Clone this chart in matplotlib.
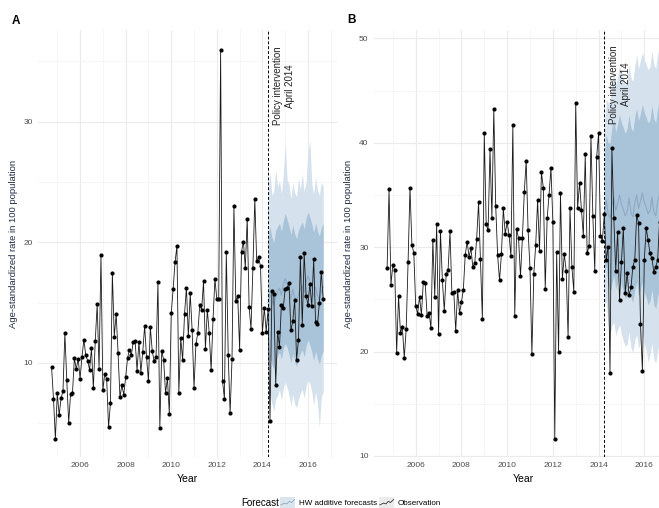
import numpy as np
import matplotlib.pyplot as plt
from matplotlib.ticker import MultipleLocator
from matplotlib.legend_handler import HandlerBase
from matplotlib.patches import Rectangle
from matplotlib.lines import Line2D

plt.rcParams['font.family'] = ['Liberation Sans', 'DejaVu Sans']

# monthly series, Oct 2004 - Sep 2016
years = 2004.75 + np.arange(144) / 12
policy_year = 2014.25
fc_years = years[114:]

obs_a = [9.64, 7.04, 3.7, 7.5, 5.66, 7.1, 7.65, 12.49, 8.56, 5.05, 7.43, 7.5,
         10.38, 9.5, 10.33, 8.7, 10.5, 11.93, 10.63, 10.19, 9.42, 11.21, 7.9, 11.82,
         14.86, 9.53, 18.95, 7.73, 9.09, 8.67, 4.7, 6.69, 17.48, 12.18, 14.06, 10.85,
         7.15, 8.14, 7.37, 8.81, 10.41, 11.08, 10.66, 11.76, 11.82, 9.36, 11.76, 9.2,
         10.91, 13.07, 10.47, 8.51, 12.95, 10.99, 10.13, 10.47, 16.68, 4.61, 10.99, 10.25,
         7.51, 8.72, 5.77, 14.11, 16.13, 18.37, 19.69, 7.51, 12.07, 10.25, 14.06, 16.24,
         12.2, 15.77, 12.73, 7.95, 11.57, 12.49, 14.77, 14.41, 16.76, 11.16, 14.41, 12.49,
         9.39, 13.61, 16.96, 15.3, 15.3, 35.98, 8.51, 7.04, 19.16, 10.69, 5.82, 10.33,
         23.03, 15.14, 15.52, 11.1, 19.22, 20.05, 17.9, 21.96, 14.64, 12.82, 17.9, 23.59,
         18.42, 18.75, 18.0, 12.49, 14.56, 12.6, 14.47, 5.22, 15.93, 15.74, 8.18, 12.57,
         11.35, 14.83, 14.56, 16.13, 16.21, 16.63, 12.7, 13.45, 15.25, 10.27, 11.93, 18.78,
         13.17, 19.14, 15.58, 14.83, 16.54, 14.69, 18.64, 13.37, 13.26, 14.97, 17.54, 15.3]

obs_b = [28.03, 35.54, 26.4, 28.28, 27.81, 19.88, 25.32, 21.77, 22.32, 19.4, 22.12, 28.57,
         35.69, 30.23, 29.46, 24.39, 23.6, 25.25, 23.5, 26.69, 26.53, 23.4, 23.72, 22.25,
         30.71, 25.25, 32.18, 21.68, 31.51, 26.85, 23.91, 27.42, 27.81, 31.51, 25.57, 25.73,
         21.93, 25.89, 23.72, 24.71, 25.89, 29.27, 30.52, 29.08, 29.88, 28.09, 28.48, 30.78,
         34.29, 28.84, 23.11, 40.93, 32.18, 31.61, 39.37, 32.82, 43.26, 33.94, 29.24, 26.82,
         29.31, 33.72, 31.28, 32.38, 31.16, 29.12, 41.72, 23.43, 31.7, 30.84, 27.2, 30.84,
         35.28, 38.28, 31.61, 27.97, 19.73, 27.42, 30.23, 34.51, 29.6, 37.16, 35.69, 26.02,
         32.76, 35.02, 37.58, 32.44, 11.62, 29.52, 19.98, 35.15, 26.92, 29.34, 27.74, 21.36,
         33.75, 28.06, 25.73, 43.77, 33.72, 36.17, 33.55, 31.06, 38.89, 29.4, 30.13, 40.64,
         32.98, 27.68, 38.63, 40.9, 31.06, 30.61, 33.17, 28.76, 30.04, 17.91, 39.46, 32.76,
         27.74, 31.45, 24.91, 28.6, 31.86, 25.57, 27.56, 25.38, 26.15, 28.12, 28.79, 33.07,
         32.28, 22.6, 18.13, 28.76, 31.8, 30.68, 29.4, 28.92, 27.65, 28.12, 28.76, 32.43]

# Holt-Winters forecasts, Apr 2014 - Sep 2016
mean_a = [15.0, 15.8, 15.2, 14.8, 15.5, 15.9, 16.2, 15.6, 16.5, 17.0, 16.6, 16.0,
          15.3, 16.1, 15.4, 15.0, 15.7, 16.1, 16.4, 15.8, 16.7, 17.2, 16.8, 16.2,
          15.5, 16.3, 15.6, 15.2, 15.9, 16.3]
hi95_a = [24.5, 25.8, 23.9, 24.2, 26.0, 24.6, 25.1, 24.0, 25.6, 28.3, 25.2, 24.8,
          23.6, 24.9, 24.1, 23.8, 25.3, 24.4, 25.7, 24.2, 25.0, 27.5, 28.4, 24.9,
          24.0, 25.4, 24.3, 23.9, 25.0, 24.6]
lo95_a = [6.2, 7.5, 6.6, 6.0, 7.0, 7.3, 7.8, 6.9, 7.9, 8.4, 8.0, 7.3,
          6.5, 7.4, 6.6, 6.3, 7.0, 7.5, 7.8, 7.1, 8.1, 8.6, 8.3, 7.6,
          6.5, 7.6, 6.7, 4.6, 7.2, 7.6]
hi80_a = [20.6, 21.3, 20.4, 20.0, 21.0, 21.3, 21.6, 20.9, 21.8, 22.4, 21.9, 21.3,
          20.6, 21.4, 20.7, 20.3, 21.0, 21.4, 21.7, 21.1, 22.0, 22.5, 22.1, 21.5,
          20.8, 21.6, 20.9, 20.5, 21.2, 21.6]
lo80_a = [9.6, 10.5, 9.9, 9.5, 10.2, 10.6, 10.9, 10.3, 11.2, 11.6, 11.3, 10.7,
          10.0, 10.8, 10.1, 9.7, 10.4, 10.8, 11.1, 10.5, 11.4, 11.9, 11.5, 10.9,
          10.2, 11.0, 10.3, 9.9, 10.6, 11.0]

mean_b = [33.0, 34.5, 33.2, 32.8, 34.0, 34.8, 33.5, 34.2, 35.0, 34.1, 33.6, 33.0,
          33.4, 34.7, 33.3, 32.9, 34.2, 35.0, 33.7, 34.4, 35.2, 34.3, 33.8, 33.2,
          33.5, 34.8, 33.4, 33.0, 34.3, 35.1]
hi95_b = [41.5, 44.2, 43.8, 44.0, 45.5, 46.8, 45.5, 46.3, 47.4, 46.5, 46.2, 45.5,
          46.1, 47.5, 46.2, 45.9, 47.3, 48.4, 47.1, 47.9, 48.7, 47.9, 47.5, 47.0,
          47.3, 48.8, 47.5, 47.1, 48.5, 49.2]
lo95_b = [24.5, 24.8, 22.6, 21.6, 22.5, 22.8, 21.5, 22.1, 22.6, 21.7, 21.0, 20.5,
          20.7, 21.9, 20.4, 19.9, 21.1, 21.6, 20.3, 20.9, 21.7, 20.7, 20.1, 19.0,
          19.7, 20.8, 19.3, 18.9, 20.1, 20.9]
hi80_b = [38.5, 40.8, 40.0, 40.0, 41.5, 42.3, 41.0, 41.8, 42.7, 41.9, 41.4, 40.9,
          41.4, 42.7, 41.4, 41.1, 42.5, 43.3, 42.1, 42.8, 43.7, 42.9, 42.4, 41.9,
          42.2, 43.6, 42.3, 41.9, 43.3, 44.1]
lo80_b = [27.5, 28.2, 26.4, 25.6, 26.5, 27.3, 26.0, 26.6, 27.3, 26.3, 25.8, 25.1,
          25.4, 26.7, 25.2, 24.7, 25.9, 26.7, 25.3, 26.0, 26.7, 25.7, 25.2, 24.5,
          24.8, 26.0, 24.5, 24.1, 25.3, 26.1]

light_blue = '#D5E1EC'
mid_blue = '#A9C3D8'
line_blue = '#8DAAC5'
grid_col = '#EBEBEB'


def draw_panel(ax, obs, mean, lo80, hi80, lo95, hi95, ylim, text_y):
    ax.fill_between(fc_years, lo95, hi95, color=light_blue, lw=0, zorder=1)
    ax.fill_between(fc_years, lo80, hi80, color=mid_blue, lw=0, zorder=2)
    ax.plot(fc_years, mean, color=line_blue, lw=0.8, zorder=3)
    ax.axvline(policy_year, color='black', lw=0.7, ls=(0, (3, 2)), zorder=4)
    ax.plot(years, obs, color='#1a1a1a', lw=0.6, zorder=5)
    ax.scatter(years, obs, s=9, color='black', lw=0, zorder=6)
    ax.text(2014.93, text_y, 'Policy intervention\nApril 2014', rotation=90,
            ha='center', va='center', multialignment='center', fontsize=7,
            color='#222222', linespacing=1.25, zorder=7)

    ax.set_xlim(2004.154, 2017.26)
    ax.set_ylim(*ylim)
    ax.xaxis.set_major_locator(MultipleLocator(2))
    ax.xaxis.set_minor_locator(MultipleLocator(1))
    ax.yaxis.set_major_locator(MultipleLocator(10))
    ax.yaxis.set_minor_locator(MultipleLocator(5))
    ax.set_axisbelow(True)
    ax.grid(which='major', color=grid_col, lw=0.8)
    ax.grid(which='minor', color='#F3F3F3', lw=0.5)
    for s in ax.spines.values():
        s.set_visible(False)
    ax.tick_params(which='both', length=0, labelsize=6, labelcolor='#4D4D4D', pad=3.5)
    ax.set_xlabel('Year', fontsize=7.5, color='black', labelpad=4)
    ax.set_ylabel('Age-standardized rate in 100 population', fontsize=6.8,
                  color='#1F2A44')
    ax.yaxis.set_label_coords(-0.067, 0.5)


fig = plt.figure(figsize=(6.59, 5.08), dpi=100)
axA = fig.add_axes([38 / 659, 51 / 508, 298.7 / 659, 427 / 508])
axB = fig.add_axes([373.5 / 659, 51 / 508, 299.6 / 659, 427 / 508])

draw_panel(axA, obs_a, mean_a, lo80_a, hi80_a, lo95_a, hi95_a, (2.2, 37.6), 32.97)
draw_panel(axB, obs_b, mean_b, lo80_b, hi80_b, lo95_b, hi95_b, (9.9, 50.8), 45.6)

fig.text(16 / 659, 1 - 20.5 / 508, 'A', fontsize=8.5, fontweight='bold', ha='center', va='center')
fig.text(352 / 659, 1 - 20 / 508, 'B', fontsize=8.5, fontweight='bold', ha='center', va='center')


# legend keys: coloured box with a small zigzag line
class KeyHandler(HandlerBase):
    def create_artists(self, legend, orig_handle, xdescent, ydescent, width, height, fontsize, trans):
        bg, col = orig_handle
        box = Rectangle((-xdescent, -ydescent), width, height, facecolor=bg,
                        edgecolor='none', transform=trans)
        xs = np.array([0.05, 0.3, 0.45, 0.6, 0.75, 0.95]) * width - xdescent
        ys = np.array([0.3, 0.45, 0.38, 0.6, 0.5, 0.75]) * height - ydescent
        ln = Line2D(xs, ys, color=col, lw=0.6, transform=trans)
        return [box, ln]


class Key:
    def __init__(self, bg, col):
        self.bg, self.col = bg, col

    def __iter__(self):
        return iter((self.bg, self.col))


keys = [Key('#D9E5EF', line_blue), Key('#EBEBEB', '#333333')]
fig.text(241.5 / 659, 1 - 502.5 / 508, 'Forecast', fontsize=7, ha='left', va='center')
fig.legend(keys, ['HW additive forecasts', 'Observation'], ncol=2, frameon=False,
           handler_map={Key: KeyHandler()}, fontsize=5.8, handlelength=1.9,
           handleheight=1.9, handletextpad=0.4, columnspacing=0.3,
           loc='center left', bbox_to_anchor=(280 / 659, 1 - 502.5 / 508),
           borderaxespad=0, borderpad=0)

fig.savefig('out.png', dpi=100)
